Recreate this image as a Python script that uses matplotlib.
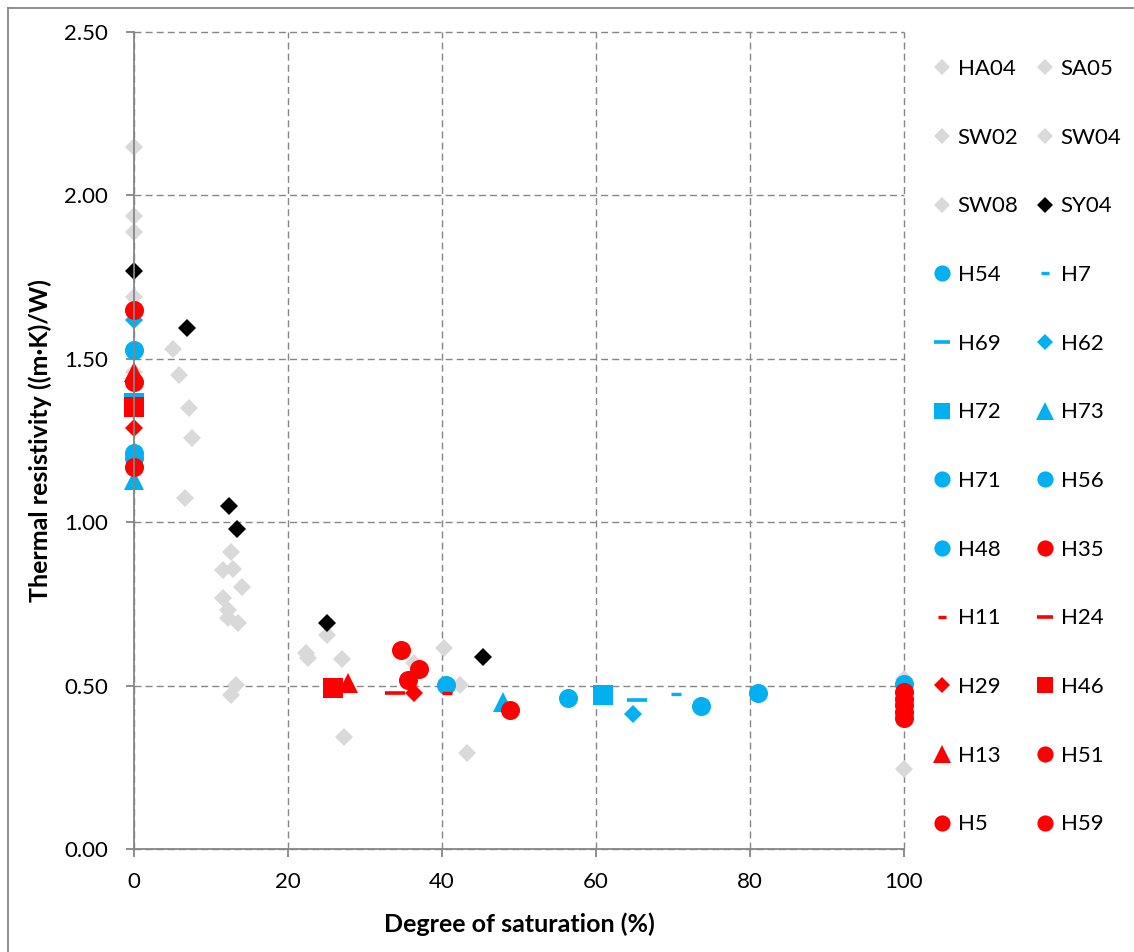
import matplotlib
matplotlib.use("Agg")
import matplotlib.pyplot as plt
from matplotlib.lines import Line2D

plt.rcParams['font.family'] = ['Lato', 'DejaVu Sans']

GREY = '#D9D9D9'
BLUE = '#00B0F0'
RED = '#FF0000'
BLACK = '#000000'

# degree of saturation (%) and thermal resistivity ((m.K)/W) per sample
ha04_x = [0, 7.1, 12.6, 22.4, 43.3]
ha04_y = [2.148, 1.35, 0.909, 0.599, 0.293]
sa05_x = [0, 5.8, 12.8, 27.0, 100]
sa05_y = [1.937, 1.45, 0.857, 0.580, 0.245]
sw02_x = [0, 5.06, 11.5, 14.0, 22.6, 27.3]
sw02_y = [1.888, 1.53, 0.854, 0.803, 0.584, 0.344]
sw04_x = [0, 7.5, 11.6, 12.2, 13.2, 36.3, 42.3]
sw04_y = [1.689, 1.258, 0.768, 0.731, 0.502, 0.568, 0.502]
sw08_x = [0, 6.6, 12.2, 13.5, 12.6, 25.0, 40.3, 100]
sw08_y = [1.46, 1.074, 0.707, 0.692, 0.471, 0.655, 0.614, 0.52]
sy04_x = [0, 6.9, 12.3, 13.4, 25.0, 45.3]
sy04_y = [1.769, 1.594, 1.05, 0.979, 0.691, 0.588]

h54_x = [0, 81.1]
h54_y = [1.527, 0.478]
h7_x = [70.4]
h7_y = [0.473]
h69_x = [0, 65.3]
h69_y = [1.39, 0.456]
h62_x = [0, 64.8]
h62_y = [1.619, 0.413]
h72_x = [0, 60.9]
h72_y = [1.366, 0.471]
h73_x = [0, 47.9]
h73_y = [1.13, 0.451]
h71_x = [0, 73.6]
h71_y = [1.211, 0.437]
h56_x = [0, 56.3, 100]
h56_y = [1.195, 0.461, 0.505]
h48_x = [40.5]
h48_y = [0.502]

h35_x = [0, 34.7]
h35_y = [1.649, 0.609]
h11_x = [40.7]
h11_y = [0.478]
h24_x = [33.9]
h24_y = [0.478]
h29_x = [0, 36.3]
h29_y = [1.287, 0.478]
h46_x = [0, 25.8]
h46_y = [1.353, 0.492]
h13_x = [0, 27.8]
h13_y = [1.46, 0.507]
h51_x = [0, 37.0, 100]
h51_y = [1.43, 0.55, 0.48]
h5_x = [0, 35.6, 100, 100]
h5_y = [1.17, 0.517, 0.44, 0.46]
h59_x = [48.8, 100, 100]
h59_y = [0.425, 0.42, 0.40]

# name, x, y, marker, colour, size, edge width
series = [
    ('HA04', ha04_x, ha04_y, 'D', GREY, 9, 0),
    ('SA05', sa05_x, sa05_y, 'D', GREY, 9, 0),
    ('SW02', sw02_x, sw02_y, 'D', GREY, 9, 0),
    ('SW04', sw04_x, sw04_y, 'D', GREY, 9, 0),
    ('SW08', sw08_x, sw08_y, 'D', GREY, 9, 0),
    ('SY04', sy04_x, sy04_y, 'D', BLACK, 9, 0),
    ('H54', h54_x, h54_y, 'o', BLUE, 13.7, 0),
    ('H7', h7_x, h7_y, '_', BLUE, 7, 2.4),
    ('H69', h69_x, h69_y, '_', BLUE, 13.7, 2.6),
    ('H62', h62_x, h62_y, 'D', BLUE, 9, 0),
    ('H72', h72_x, h72_y, 's', BLUE, 13.7, 0),
    ('H73', h73_x, h73_y, '^', BLUE, 14.5, 0),
    ('H71', h71_x, h71_y, 'o', BLUE, 13.7, 0),
    ('H56', h56_x, h56_y, 'o', BLUE, 13.7, 0),
    ('H48', h48_x, h48_y, 'o', BLUE, 13.7, 0),
    ('H35', h35_x, h35_y, 'o', RED, 13.7, 0),
    ('H11', h11_x, h11_y, '_', RED, 7, 2.4),
    ('H24', h24_x, h24_y, '_', RED, 13.7, 2.6),
    ('H29', h29_x, h29_y, 'D', RED, 9, 0),
    ('H46', h46_x, h46_y, 's', RED, 13.7, 0),
    ('H13', h13_x, h13_y, '^', RED, 14.5, 0),
    ('H51', h51_x, h51_y, 'o', RED, 13.7, 0),
    ('H5', h5_x, h5_y, 'o', RED, 13.7, 0),
    ('H59', h59_x, h59_y, 'o', RED, 13.7, 0),
]

fig = plt.figure(figsize=(11.34, 9.52), dpi=100)
W, H = 1134, 952
ax = fig.add_axes([134 / W, (H - 849) / H, 770 / W, 817 / H])

handles = []
for name, xs, ys, mk, col, ms, mew in series:
    if mk == '_':
        h, = ax.plot(xs, ys, linestyle='none', marker=mk, markersize=ms,
                     markeredgewidth=mew, color=col, clip_on=False, label=name)
    else:
        h, = ax.plot(xs, ys, linestyle='none', marker=mk, markersize=ms,
                     markerfacecolor=col, markeredgewidth=0, color=col,
                     clip_on=False, label=name)
    handles.append(h)

ax.set_xlim(0, 100)
ax.set_ylim(0, 2.5)
ax.set_xticks([0, 20, 40, 60, 80, 100])
ax.set_yticks([0, 0.5, 1.0, 1.5, 2.0, 2.5])
ax.set_yticklabels(['%.2f' % v for v in [0, 0.5, 1.0, 1.5, 2.0, 2.5]])

ax.grid(True, color='#868686', linestyle=(0, (5, 3)), linewidth=1.0)
ax.set_axisbelow(True)
for gl in ax.get_xgridlines() + ax.get_ygridlines():
    gl.set_clip_on(False)
for s in ['top', 'right']:
    ax.spines[s].set_visible(False)
for s in ['left', 'bottom']:
    ax.spines[s].set_color('#868686')
    ax.spines[s].set_linewidth(1.3)
ax.tick_params(axis='both', direction='out', length=5.5, width=1.3,
               color='#868686', labelsize=16)
ax.tick_params(axis='x', pad=11)
ax.tick_params(axis='y', pad=13)

ax.set_xlabel('Degree of saturation (%)', fontsize=18, fontweight='bold', labelpad=15)
ax.set_ylabel('Thermal resistivity ((m·K)/W)', fontsize=18, fontweight='bold', labelpad=9)

# legend filled row by row like the original
order = list(range(0, len(handles), 2)) + list(range(1, len(handles), 2))
leg = fig.legend([handles[i] for i in order], [series[i][0] for i in order],
                 ncol=2, loc='upper left', bbox_to_anchor=(931 / W, 1 - 59 / H),
                 frameon=False, fontsize=16, handlelength=1.0, handletextpad=0.2,
                 columnspacing=0.7, labelspacing=2.19, borderpad=0,
                 borderaxespad=0, markerscale=0.85)

# chart frame (left and top edges visible)
fig.add_artist(Line2D([8 / W, 8 / W], [0, 1 - 8 / H], color='#868686', lw=1.3))
fig.add_artist(Line2D([8 / W, 1], [1 - 8 / H, 1 - 8 / H], color='#868686', lw=1.3))

fig.savefig('out.png', dpi=100)
